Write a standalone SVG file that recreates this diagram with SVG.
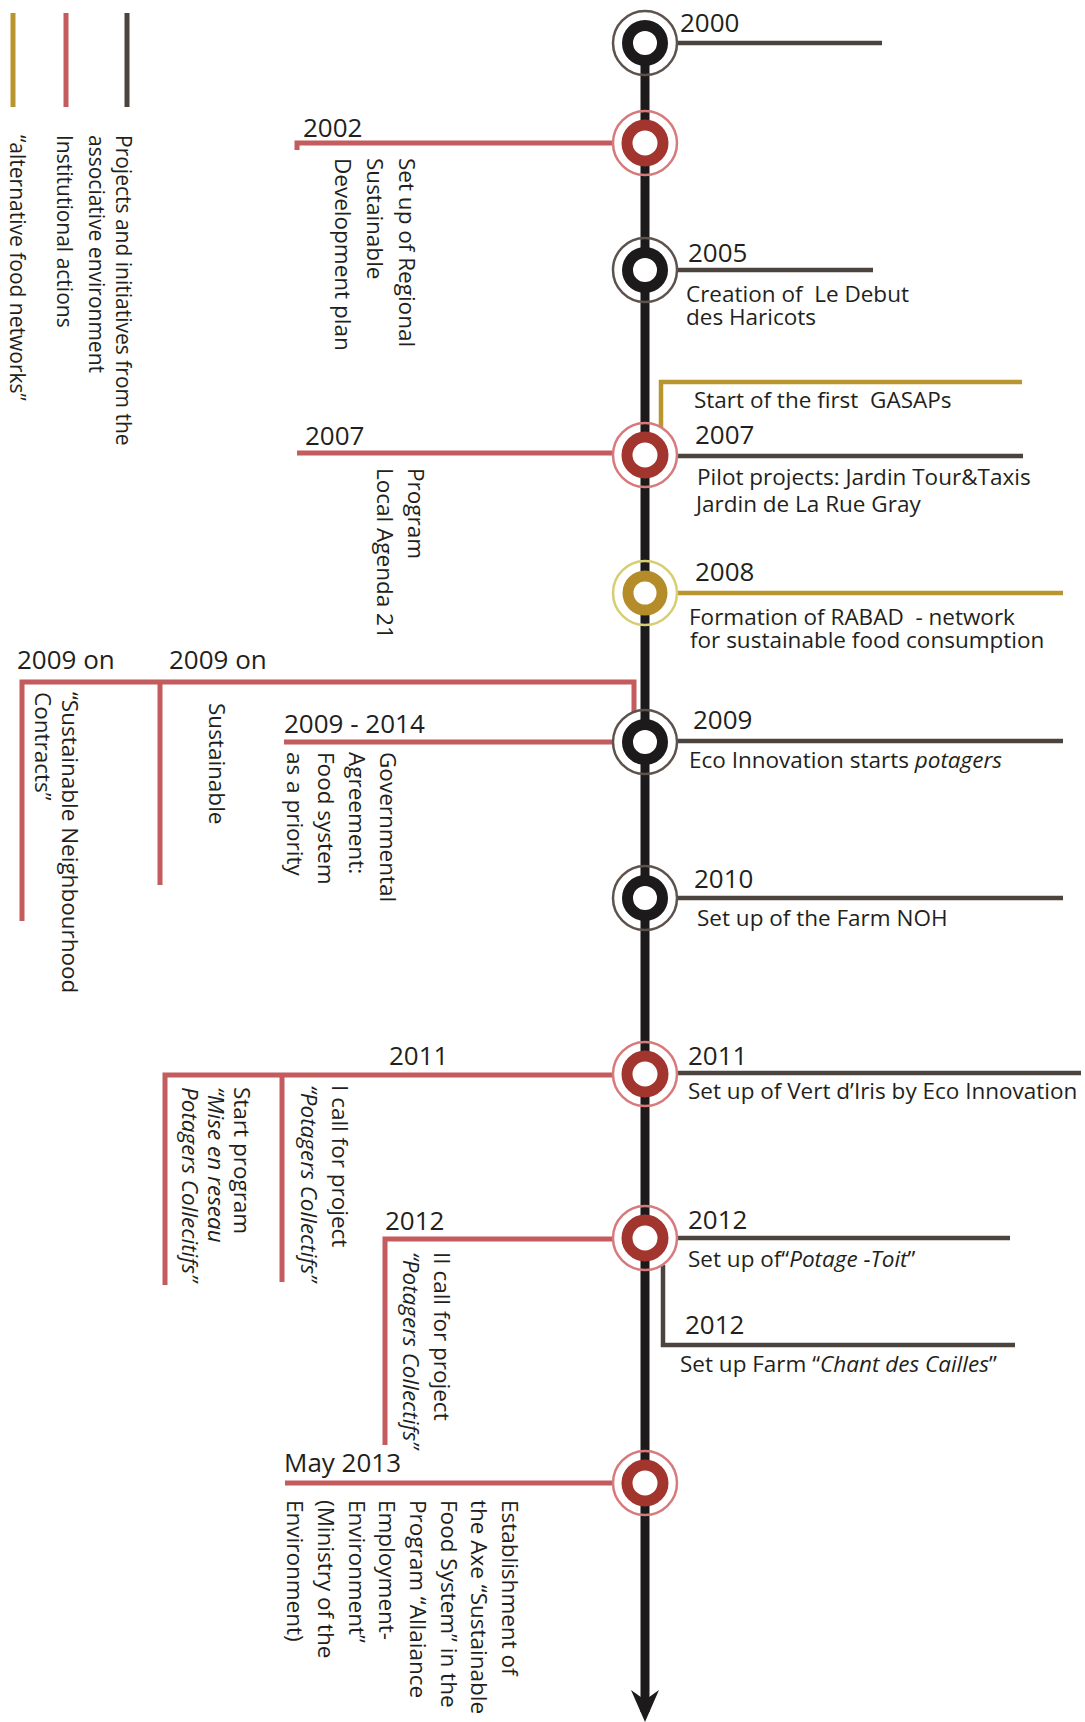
<svg xmlns="http://www.w3.org/2000/svg" width="1085" height="1722" viewBox="0 0 1085 1722">
<style>
text{font-family:"Open Sans","Noto Sans","Liberation Sans",sans-serif;fill:#231f20;white-space:pre}
.yr{font-size:26px}
.d{font-size:22.5px}
.lg{font-size:21px}
.i{font-style:italic}
.dk{stroke:#4b433e;stroke-width:4.5;fill:none}
.rd{stroke:#c45b5d;stroke-width:5;fill:none}
.gd{stroke:#b8952f;stroke-width:4.5;fill:none}
.axis{stroke:#1c1a1a;stroke-width:9;fill:none}
.ob{fill:none;stroke-width:2.5}
.ib{fill:#fff;stroke-width:11}
.blk .ob{stroke:#5e524c}.blk .ib{stroke:#1c1a1a}
.red .ob{stroke:#d8797b}.red .ib{stroke:#a3352f}
.gld .ob{stroke:#d6cf72}.gld .ib{stroke:#b48d2a}
</style>
<defs>
<marker id="arr" markerUnits="userSpaceOnUse" viewBox="0 0 32 28" refX="22" refY="14" markerWidth="32" markerHeight="28" orient="auto">
<path d="M0,0 L32,14 L0,28 L10,14 Z" fill="#1c1a1a"/>
</marker>
</defs>
<rect width="1085" height="1722" fill="#fff"/>

<g id="legend">
<line x1="13" y1="13" x2="13" y2="107" stroke="#b8952f" stroke-width="5"/>
<line x1="66" y1="13" x2="66" y2="107" stroke="#c45b5d" stroke-width="5"/>
<line x1="127" y1="13" x2="127" y2="107" stroke="#4b433e" stroke-width="5"/>
<text class="lg" transform="translate(116,135) rotate(90)"><tspan x="0" y="0">Projects and initiatives from the</tspan><tspan x="0" y="27">associative environment</tspan></text>
<text class="lg" transform="translate(57,135) rotate(90)">Institutional actions</text>
<text class="lg" transform="translate(10,135) rotate(90)">“alternative food networks”</text>
</g>

<g id="connectors">
<line class="axis" x1="645" y1="44" x2="645" y2="1712" marker-end="url(#arr)"/>
<line class="dk" x1="677" y1="43" x2="882" y2="43"/>
<line class="dk" x1="677" y1="270" x2="873" y2="270"/>
<line class="dk" x1="677" y1="456" x2="1023" y2="456"/>
<path class="gd" d="M661 427 V382 H1022"/>
<line class="gd" x1="677" y1="593" x2="1063" y2="593"/>
<line class="dk" x1="677" y1="741" x2="1063" y2="741"/>
<line class="dk" x1="677" y1="898" x2="1063" y2="898"/>
<line class="dk" x1="677" y1="1073" x2="1081" y2="1073"/>
<line class="dk" x1="677" y1="1238" x2="1010" y2="1238"/>
<path class="dk" d="M663 1265 V1345 H1015"/>
<path class="rd" d="M297 150 V143 H613"/>
<line class="rd" x1="297" y1="453" x2="613" y2="453"/>
<path class="rd" d="M22 921 V682 H634 V712"/>
<line class="rd" x1="160" y1="682" x2="160" y2="885"/>
<line class="rd" x1="284" y1="742" x2="613" y2="742"/>
<path class="rd" d="M165 1285 V1075 H613"/>
<line class="rd" x1="282" y1="1075" x2="282" y2="1282"/>
<path class="rd" d="M385 1445 V1239 H613"/>
<line class="rd" x1="285" y1="1483" x2="613" y2="1483"/>
</g>

<g id="n2000" class="blk">
<circle class="ob" cx="645" cy="43" r="32"/><circle class="ib" cx="645" cy="43" r="17.5"/>
<text class="yr" x="680" y="32">2000</text>
</g>

<g id="n2002" class="red">
<circle class="ob" cx="645" cy="143" r="32"/><circle class="ib" cx="645" cy="143" r="18"/>
<text class="yr" x="303" y="137">2002</text>
<text class="d" transform="translate(399,158) rotate(90)"><tspan x="0" y="0">Set up of Regional</tspan><tspan x="0" y="32">Sustainable</tspan><tspan x="0" y="64">Development plan</tspan></text>
</g>

<g id="n2005" class="blk">
<circle class="ob" cx="645" cy="270" r="32"/><circle class="ib" cx="645" cy="270" r="17.5"/>
<text class="yr" x="688" y="262">2005</text>
<text class="d" x="686" y="302">Creation of  Le Debut</text>
<text class="d" x="686" y="325">des Haricots</text>
</g>

<g id="n2007" class="red">
<circle class="ob" cx="645" cy="455" r="32"/><circle class="ib" cx="645" cy="455" r="18"/>
<text class="d" x="694" y="408">Start of the first  GASAPs</text>
<text class="yr" x="695" y="444">2007</text>
<text class="d" x="697" y="485">Pilot projects: Jardin Tour&amp;Taxis</text>
<text class="d" x="696" y="512">Jardin de La Rue Gray</text>
<text class="yr" x="305" y="445">2007</text>
<text class="d" transform="translate(408,468) rotate(90)"><tspan x="0" y="0">Program</tspan><tspan x="0" y="31">Local Agenda 21</tspan></text>
</g>

<g id="n2008" class="gld">
<circle class="ob" cx="645" cy="593" r="32"/><circle class="ib" cx="645" cy="593" r="17"/>
<text class="yr" x="695" y="581">2008</text>
<text class="d" x="689" y="625">Formation of RABAD  - network</text>
<text class="d" x="690" y="648">for sustainable food consumption</text>
</g>

<g id="n2009" class="blk">
<circle class="ob" cx="645" cy="742" r="32"/><circle class="ib" cx="645" cy="742" r="17.5"/>
<text class="yr" x="693" y="729">2009</text>
<text class="d" x="689" y="768">Eco Innovation starts <tspan class="i">potagers</tspan></text>
<text class="yr" x="17" y="669">2009 on</text>
<text class="yr" x="169" y="669">2009 on</text>
<text class="yr" x="284" y="733">2009 - 2014</text>
<text class="d" transform="translate(62,692) rotate(90)"><tspan x="0" y="0">“Sustainable Neighbourhood</tspan><tspan x="0" y="27">Contracts”</tspan></text>
<text class="d" transform="translate(209,703) rotate(90)">Sustainable</text>
<text class="d" transform="translate(380,752) rotate(90)"><tspan x="0" y="0">Governmental</tspan><tspan x="0" y="31">Agreement:</tspan><tspan x="0" y="62">Food system</tspan><tspan x="0" y="93">as a priority</tspan></text>
</g>

<g id="n2010" class="blk">
<circle class="ob" cx="645" cy="898" r="32"/><circle class="ib" cx="645" cy="898" r="17.5"/>
<text class="yr" x="694" y="888">2010</text>
<text class="d" x="697" y="926">Set up of the Farm NOH</text>
</g>

<g id="n2011" class="red">
<circle class="ob" cx="645" cy="1074" r="32"/><circle class="ib" cx="645" cy="1074" r="18"/>
<text class="yr" x="688" y="1065">2011</text>
<text class="d" x="688" y="1099">Set up of Vert d’Iris by Eco Innovation</text>
<text class="yr" x="389" y="1065">2011</text>
<text class="d" transform="translate(234,1087) rotate(90)"><tspan x="0" y="0">Start program</tspan><tspan class="i" x="0" y="26">“Mise en reseau</tspan><tspan class="i" x="0" y="52">Potagers Collecitifs”</tspan></text>
<text class="d" transform="translate(332,1085) rotate(90)"><tspan x="0" y="0">I call for project</tspan><tspan class="i" x="0" y="31">“Potagers Collectifs”</tspan></text>
</g>

<g id="n2012" class="red">
<circle class="ob" cx="645" cy="1238" r="32"/><circle class="ib" cx="645" cy="1238" r="18"/>
<text class="yr" x="688" y="1229">2012</text>
<text class="d" x="688" y="1267">Set up of“<tspan class="i">Potage -Toit</tspan>”</text>
<text class="yr" x="385" y="1230">2012</text>
<text class="d" transform="translate(434,1252) rotate(90)"><tspan x="0" y="0">II call for project</tspan><tspan class="i" x="0" y="31">“Potagers Collectifs”</tspan></text>
</g>

<g id="n2012b">
<text class="yr" x="685" y="1334">2012</text>
<text class="d" x="680" y="1372">Set up Farm “<tspan class="i">Chant des Cailles</tspan>”</text>
</g>

<g id="n2013" class="red">
<circle class="ob" cx="645" cy="1483" r="32"/><circle class="ib" cx="645" cy="1483" r="18"/>
<text class="yr" x="284" y="1472">May 2013</text>
<text class="d" transform="translate(502,1500) rotate(90)"><tspan x="0" y="0">Establishment of</tspan><tspan x="0" y="30.7">the Axe “Sustainable</tspan><tspan x="0" y="61.4">Food System” in the</tspan><tspan x="0" y="92.1">Program “Allaiance</tspan><tspan x="0" y="122.8">Employment-</tspan><tspan x="0" y="153.5">Environment”</tspan><tspan x="0" y="184.2">(Ministry of the</tspan><tspan x="0" y="214.9">Environment)</tspan></text>
</g>
</svg>
